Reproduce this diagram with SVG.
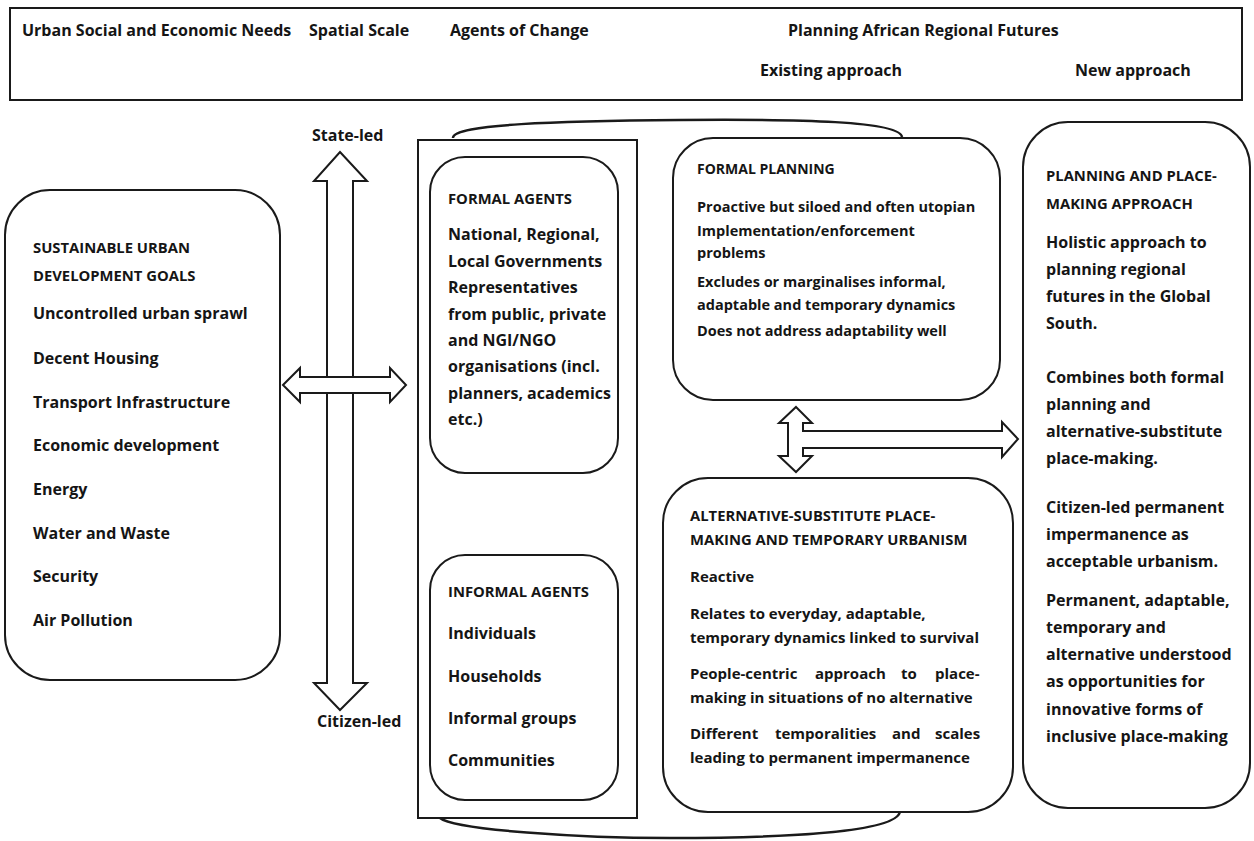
<svg xmlns="http://www.w3.org/2000/svg" width="1254" height="841" viewBox="0 0 1254 841">
<style>
text{font-family:"Open Sans","Liberation Sans",sans-serif;font-weight:bold;fill:#151515;font-size:16px}
.t{font-size:14.8px}
.fp{font-size:14.5px}
.al{font-size:15px}
.box{fill:none;stroke:#1a1a1a;stroke-width:2}
.arr{fill:#fff;stroke:#1a1a1a;stroke-width:2;stroke-linejoin:miter}
.cur{fill:none;stroke:#1a1a1a;stroke-width:2.5}
</style>
<rect width="1254" height="841" fill="#fff"/>
<g id="header">
<rect class="box" x="10" y="8" width="1232" height="92"/>
<text x="22" y="36">Urban Social and Economic Needs</text>
<text x="309" y="36">Spatial Scale</text>
<text x="450" y="36">Agents of Change</text>
<text x="788" y="36">Planning African Regional Futures</text>
<text x="760" y="76">Existing approach</text>
<text x="1075" y="76">New approach</text>
</g>
<g id="sdg">
<rect class="box" x="5" y="190" width="275" height="490" rx="45"/>
<text class="t" x="33" y="253">SUSTAINABLE URBAN</text>
<text class="t" x="33" y="281">DEVELOPMENT GOALS</text>
<text x="33" y="319">Uncontrolled urban sprawl</text>
<text x="33" y="364">Decent Housing</text>
<text x="33" y="408">Transport Infrastructure</text>
<text x="33" y="451">Economic development</text>
<text x="33" y="495">Energy</text>
<text x="33" y="539">Water and Waste</text>
<text x="33" y="582">Security</text>
<text x="33" y="626">Air Pollution</text>
</g>
<g id="scale">
<text x="312" y="141">State-led</text>
<text x="317" y="727">Citizen-led</text>
</g>
<g id="agents">
<rect class="box" x="418" y="140" width="219" height="678"/>
<g id="formal-agents">
<rect class="box" x="430" y="157" width="188" height="316" rx="35"/>
<text class="t" x="448" y="204">FORMAL AGENTS</text>
<text x="448" y="240">National, Regional,</text>
<text x="448" y="267">Local Governments</text>
<text x="448" y="293">Representatives</text>
<text x="448" y="320">from public, private</text>
<text x="448" y="346">and NGI/NGO</text>
<text x="448" y="372">organisations (incl.</text>
<text x="448" y="399">planners, academics</text>
<text x="448" y="425">etc.)</text>
</g>
<g id="informal-agents">
<rect class="box" x="430" y="555" width="188" height="245" rx="35"/>
<text class="t" x="448" y="597">INFORMAL AGENTS</text>
<text x="448" y="639">Individuals</text>
<text x="448" y="682">Households</text>
<text x="448" y="724">Informal groups</text>
<text x="448" y="766">Communities</text>
</g>
</g>
<g id="formal-planning">
<rect class="box" x="673" y="138" width="327" height="262" rx="40"/>
<text x="697" y="174" style="font-size:14px">FORMAL PLANNING</text>
<text class="fp" x="697" y="212">Proactive but siloed and often utopian</text>
<text class="fp" x="697" y="236">Implementation/enforcement</text>
<text class="fp" x="697" y="258">problems</text>
<text class="fp" x="697" y="287">Excludes or marginalises informal,</text>
<text class="fp" x="697" y="310">adaptable and temporary dynamics</text>
<text class="fp" x="697" y="336">Does not address adaptability well</text>
</g>
<g id="alternative">
<rect class="box" x="663" y="478" width="350" height="334" rx="45"/>
<text class="t" x="690" y="521">ALTERNATIVE-SUBSTITUTE PLACE-</text>
<text class="t" x="690" y="545">MAKING AND TEMPORARY URBANISM</text>
<text class="al" x="690" y="582">Reactive</text>
<text class="al" x="690" y="619">Relates to everyday, adaptable,</text>
<text class="al" x="690" y="643">temporary dynamics linked to survival</text>
<text class="al" y="679"><tspan x="690">People-centric</tspan><tspan x="815">approach</tspan><tspan x="901">to</tspan><tspan x="935">place-</tspan></text>
<text class="al" x="690" y="703">making in situations of no alternative</text>
<text class="al" y="739"><tspan x="690">Different</tspan><tspan x="775">temporalities</tspan><tspan x="892">and</tspan><tspan x="935">scales</tspan></text>
<text class="al" x="690" y="763">leading to permanent impermanence</text>
</g>
<g id="new-approach">
<rect class="box" x="1023" y="122" width="227" height="686" rx="45"/>
<text class="t" x="1046" y="181">PLANNING AND PLACE-</text>
<text class="t" x="1046" y="209">MAKING APPROACH</text>
<text x="1046" y="248">Holistic approach to</text>
<text x="1046" y="275">planning regional</text>
<text x="1046" y="302">futures in the Global</text>
<text x="1046" y="329">South.</text>
<text x="1046" y="383">Combines both formal</text>
<text x="1046" y="410">planning and</text>
<text x="1046" y="437">alternative-substitute</text>
<text x="1046" y="464">place-making.</text>
<text x="1046" y="513">Citizen-led permanent</text>
<text x="1046" y="540">impermanence as</text>
<text x="1046" y="567">acceptable urbanism.</text>
<text x="1046" y="606">Permanent, adaptable,</text>
<text x="1046" y="633">temporary and</text>
<text x="1046" y="660">alternative understood</text>
<text x="1046" y="687">as opportunities for</text>
<text x="1046" y="715">innovative forms of</text>
<text x="1046" y="742">inclusive place-making</text>
</g>
<g id="connectors">
<polygon class="arr" points="340,152 367,181 353,181 353,683 367,683 340,710 314,683 327,683 327,181 314,181"/>
<polygon class="arr" points="283,385 300,368 300,377 390,377 390,368 406,385 390,402 390,393 300,393 300,402"/>
<polygon class="arr" points="796,407 812,423 803,423 803,431 1002,431 1002,422 1018,439 1002,457 1002,448 803,448 803,456 812,456 796,472 779,456 788,456 788,423 779,423"/>
<path class="cur" d="M453,138 C452,124 560,121 680,120 C800,119 900,121 902,137"/>
<path class="cur" d="M440,818 C455,830 580,838 670,838 C790,838 895,832 900,812"/>
</g>
</svg>
